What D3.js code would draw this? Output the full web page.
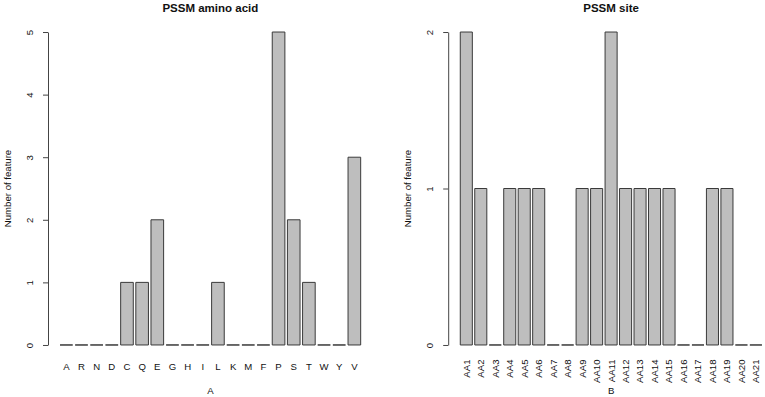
<!DOCTYPE html>
<html>
<head>
<meta charset="utf-8">
<script src="https://cdn.jsdelivr.net/npm/d3@7"></script>
<style>
  body { margin: 0; background: #fff; }
  svg text { font-family: "Liberation Sans", Arial, Helvetica, sans-serif; fill: #111; }
</style>
</head>
<body>
<svg id="chart" width="765" height="397"></svg>
<script>
// ---- data ----
const aminoAcids = ["A","R","N","D","C","Q","E","G","H","I","L","K","M","F","P","S","T","W","Y","V"];
const aminoCounts = [0,0,0,0,1,1,2,0,0,0,1,0,0,0,5,2,1,0,0,3];
const aminoTicks = [0,1,2,3,4,5];

const sites = ["AA1","AA2","AA3","AA4","AA5","AA6","AA7","AA8","AA9","AA10","AA11","AA12","AA13","AA14","AA15","AA16","AA17","AA18","AA19","AA20","AA21"];
const siteCounts = [2,1,0,1,1,1,0,0,1,1,2,1,1,1,1,0,0,1,1,0,0];
const siteTicks = [0,1,2];

const svg = d3.select("#chart");
const FS = 9.6;

function panel(opts) {
  const {cats, vals, ticks, left, right, title, xlab, rotateLabels} = opts;
  const top = 19.5, bottom = 357.5;
  const n = cats.length;
  const xmax = n * 1.2;            // R barplot: width 1, space 0.2
  const xext = (xmax - 0.2) * 0.04;
  const x = d3.scaleLinear().domain([0.2 - xext, xmax + xext]).range([left, right]);
  const ymax = d3.max(ticks);
  const y = d3.scaleLinear().domain([-ymax * 0.04, ymax * 1.04]).range([bottom, top]);
  const g = svg.append("g");

  // bars (paths so that zero-height bars still show their outline)
  g.selectAll("path.bar").data(vals).enter().append("path")
    .attr("class", "bar")
    .attr("d", (d, i) => {
      const x0 = x(0.2 + i * 1.2), x1 = x(1.2 + i * 1.2);
      const y0 = y(0), y1 = y(d);
      return `M${x0},${y0}H${x1}V${y1}H${x0}Z`;
    })
    .attr("fill", "#bebebe")
    .attr("stroke", "#3a3a3a")
    .attr("stroke-width", 1);

  // y axis (line spans first to last tick, as in R)
  const yAxisScale = d3.scaleLinear().domain([0, ymax]).range([y(0), y(ymax)]);
  const ax = g.append("g")
    .attr("transform", `translate(${x.range()[0]},0)`)
    .call(d3.axisLeft(yAxisScale).tickValues(ticks).tickSize(5).tickSizeOuter(0).tickFormat(d3.format("d")));
  ax.select(".domain").attr("stroke", "#444");
  ax.selectAll(".tick line").attr("stroke", "#444");
  ax.selectAll(".tick text")
    .attr("x", null).attr("dy", null)
    .attr("transform", "translate(-15,0) rotate(-90)")
    .attr("text-anchor", "middle")
    .style("font-size", FS + "px")
    .style("font-family", "'Liberation Sans', Arial, sans-serif")
    .attr("fill", "#111");

  // category labels
  const cx = (i) => x(0.7 + i * 1.2);
  if (!rotateLabels) {
    g.selectAll("text.cat").data(cats).enter().append("text")
      .attr("class", "cat")
      .attr("x", (d, i) => cx(i))
      .attr("y", 370.2)
      .attr("text-anchor", "middle")
      .style("font-size", FS + "px")
      .text(d => d);
  } else {
    g.selectAll("text.cat").data(cats).enter().append("text")
      .attr("class", "cat")
      .attr("transform", (d, i) => `translate(${cx(i) + 3.4},359.5) rotate(-90)`)
      .attr("text-anchor", "end")
      .style("font-size", FS + "px")
      .text(d => d);
  }

  const midX = (x.range()[0] + x.range()[1]) / 2;
  // title
  g.append("text")
    .attr("x", midX).attr("y", 11.5)
    .attr("text-anchor", "middle")
    .style("font-size", "11.5px").style("font-weight", "bold")
    .text(title);
  // x label
  g.append("text")
    .attr("x", midX).attr("y", 394.3)
    .attr("text-anchor", "middle")
    .style("font-size", FS + "px")
    .text(xlab);
  // y label
  g.append("text")
    .attr("transform", `translate(${x.range()[0] - 37},${(top + bottom) / 2}) rotate(-90)`)
    .attr("text-anchor", "middle")
    .style("font-size", FS + "px")
    .text("Number of feature");
}

panel({cats: aminoAcids, vals: aminoCounts, ticks: aminoTicks, left: 48, right: 372.7,
       title: "PSSM amino acid", xlab: "A", rotateLabels: false});
panel({cats: sites, vals: siteCounts, ticks: siteTicks, left: 448.2, right: 774,
       title: "PSSM site", xlab: "B", rotateLabels: true});
</script>
</body>
</html>
